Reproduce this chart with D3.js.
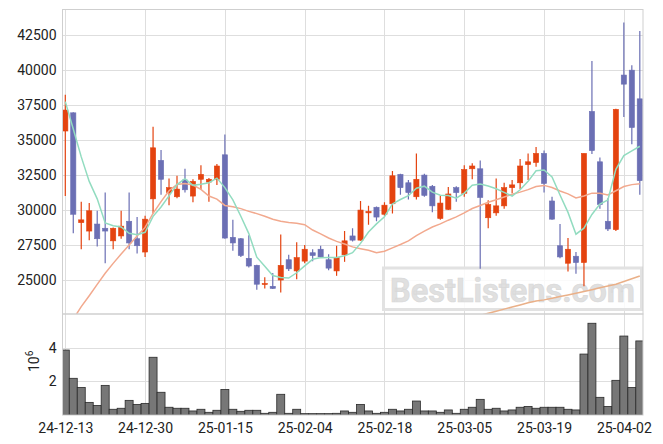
<!DOCTYPE html>
<html>
<head>
<meta charset="utf-8">
<script src="https://cdn.jsdelivr.net/npm/d3@7"></script>
<style>
  html, body { margin: 0; padding: 0; background: #fff; }
  svg { display: block; }
  text { font-family: Roboto, "Liberation Sans", Arial, sans-serif; }
</style>
</head>
<body>
<svg id="chart" width="663" height="444"></svg>
<script>
const dates = ["24-12-13","24-12-16","24-12-17","24-12-18","24-12-19","24-12-20","24-12-23","24-12-24","24-12-26","24-12-27",
"24-12-30","25-01-02","25-01-03","25-01-06","25-01-07","25-01-08","25-01-09","25-01-10","25-01-13","25-01-14",
"25-01-15","25-01-16","25-01-17","25-01-20","25-01-21","25-01-22","25-01-23","25-01-24","25-01-31","25-02-03",
"25-02-04","25-02-05","25-02-06","25-02-07","25-02-10","25-02-11","25-02-12","25-02-13","25-02-14","25-02-17",
"25-02-18","25-02-19","25-02-20","25-02-21","25-02-24","25-02-25","25-02-26","25-02-27","25-02-28","25-03-04",
"25-03-05","25-03-06","25-03-07","25-03-10","25-03-11","25-03-12","25-03-13","25-03-14","25-03-17","25-03-18",
"25-03-19","25-03-20","25-03-21","25-03-24","25-03-25","25-03-26","25-03-27","25-03-28","25-03-31","25-04-01",
"25-04-02","25-04-03","25-04-04"];

const open = [35650,36950,29100,28500,29000,28700,27800,28150,29200,27950,
27000,30800,33550,31250,30950,32150,31000,32200,32000,32200,
33950,28050,27950,26550,26050,24700,24550,25000,26450,25650,
26350,26950,27200,26450,25650,26800,28150,27850,29800,30200,
29700,30450,32550,31950,30950,32500,31700,29400,30050,31600,
31200,32950,32950,29450,29800,30300,31600,31950,33250,33400,
34050,30650,27450,26200,26700,26250,37050,33450,29200,28600,
39650,40000,37950];

const high = [38250,37000,30600,30500,29950,31250,28750,29950,31250,29500,
29600,35950,34300,32250,32450,32950,32200,33200,32300,33300,
35400,29300,28000,28200,26100,25200,25500,28250,26800,27700,
27500,27200,27450,26850,27450,28500,28700,30650,30300,30250,
30550,32800,32600,32150,34050,32600,31800,31050,31650,31700,
33200,33350,33550,30700,32250,31950,32150,33650,34050,34500,
34250,30950,29000,28000,27000,34050,40650,33750,30850,37250,
43400,40350,42800];

const low = [31000,28350,27200,27850,27400,26200,27200,27950,27200,26900,
26650,29750,31100,30350,30850,31250,30550,31450,30600,31800,
27950,27100,26650,25900,24300,24400,24350,24100,25650,25050,
26200,26350,26600,25700,25300,26300,27750,27800,28950,29200,
29550,29750,31100,30750,30750,30950,29850,29300,30000,30600,
30950,32200,25800,28700,29600,30100,31200,31500,32150,33100,
31250,29300,26550,25600,25450,24550,34000,30100,28500,28500,
36650,34700,31100];

const close = [37150,29700,29300,29950,27950,28500,28700,28850,27650,27450,
29350,34450,32200,31600,31500,31450,32050,32550,32200,33150,
28000,27650,26750,26000,24700,24750,24400,26050,25800,26600,
27200,26750,26650,25850,26600,27800,27850,30000,29900,29500,
30350,32450,31600,31250,32200,31050,30300,30500,31150,31250,
32900,33150,30900,30400,30300,31600,31800,33150,33450,34050,
31900,29350,26650,27200,26250,34050,34250,30400,28650,37200,
39000,35900,32100];

// volume in millions of shares
const volume = [3.86,2.18,1.64,0.75,0.57,1.76,0.34,0.40,0.87,0.63,
0.69,3.43,1.35,0.46,0.40,0.40,0.24,0.34,0.16,0.28,
1.52,0.34,0.22,0.28,0.28,0.10,0.16,1.23,0.10,0.34,
0.08,0.08,0.08,0.08,0.10,0.24,0.16,0.63,0.24,0.10,
0.16,0.34,0.24,0.34,0.83,0.24,0.24,0.16,0.30,0.10,
0.34,0.46,0.93,0.34,0.40,0.24,0.30,0.46,0.51,0.40,
0.46,0.46,0.46,0.34,0.30,3.62,5.45,1.05,0.51,2.06,
4.69,1.64,4.40];

const ma5 = [37750,35800,33800,32050,30800,29076,28881,28795,28343,28243,
28409,29552,30224,31014,31824,32238,31766,31838,31957,32285,
31605,30724,29557,28319,26629,25976,25319,25186,25138,25519,
26009,26481,26600,26609,26614,26729,26952,27619,28429,29010,
29524,30438,30757,31028,31566,31709,31285,31062,31043,30847,
31214,31781,31862,31714,31524,31267,30995,31448,32052,32805,
32862,32371,31076,29833,28276,28705,29686,30433,30719,32909,
33895,34224,34562];

const ma20 = [21500,22200,23100,23880,24690,25480,26190,26860,27500,28140,
28760,29760,30600,31380,31830,31900,31790,31480,31000,30788,
30332,30231,30103,29908,29745,29557,29340,29201,29107,29064,
28957,28573,28295,28006,27762,27580,27369,27240,27124,26943,
27060,27298,27540,27801,28177,28493,28789,29009,29277,29509,
29794,30114,30325,30554,30737,30929,31125,31282,31459,31686,
31763,31608,31362,31161,30863,31012,31208,31205,31080,31379,
31682,31819,31880];

const ma60 = [null,null,null,null,null,null,null,null,null,null,
null,null,null,null,null,null,null,null,null,null,
null,null,null,null,null,null,null,null,null,null,
null,null,null,null,null,null,null,null,null,null,
null,null,null,null,null,null,null,null,null,null,
22200,22340,22480,22620,22770,22920,23070,23220,23370,23500,
23580,23700,23820,23930,24050,24180,24310,24440,24570,24700,
24890,25090,25290];

const priceTicks = [25000,27500,30000,32500,35000,37500,40000,42500];
const volTicks = [2,4];
const dateTickIdx = [0,10,20,30,40,50,60,70];

const upColor = "#e4430f", downColor = "#6b6fb4";

const svg = d3.select("#chart");
const L = 62.5, R = 643, T = 9.5, MB = 314, VB = 415;

const x = d3.scaleLinear().domain([-0.35, 72.4]).range([L, R]);
const y = d3.scaleLinear().domain([22571, 44336]).range([MB, T]);
const yv = d3.scaleLinear().domain([0, 6]).range([VB, MB]);
const step = x(1) - x(0);

svg.append("defs").append("clipPath").attr("id","clipMain")
  .append("rect").attr("x", L).attr("y", T).attr("width", R - L).attr("height", MB - T);
svg.select("defs").append("clipPath").attr("id","clipVol")
  .append("rect").attr("x", L).attr("y", MB).attr("width", R - L).attr("height", VB - MB);

// gridlines
const grid = svg.append("g").attr("stroke", "#dedede").attr("stroke-width", 1);
priceTicks.forEach(t => grid.append("line").attr("x1", L).attr("x2", R).attr("y1", Math.round(y(t)) + 0.5).attr("y2", Math.round(y(t)) + 0.5));
volTicks.forEach(t => grid.append("line").attr("x1", L).attr("x2", R).attr("y1", Math.round(yv(t)) + 0.5).attr("y2", Math.round(yv(t)) + 0.5));
dateTickIdx.forEach(i => {
  const xx = Math.round(x(i)) + 0.5;
  grid.append("line").attr("x1", xx).attr("x2", xx).attr("y1", T).attr("y2", VB);
});

// watermark
const wm = svg.append("g");
wm.append("rect").attr("x", 383.5).attr("y", 268).attr("width", 258).attr("height", 41.5)
  .attr("fill", "#fff").attr("fill-opacity", 0.85).attr("stroke", "#e2e2e2").attr("stroke-width", 3);
wm.append("text").attr("x", 390).attr("y", 301.5).text("BestListens.com")
  .attr("font-family", "'Liberation Sans', Arial, sans-serif").attr("font-weight", "bold")
  .attr("font-size", 34).attr("fill", "#e0e0e0").attr("stroke", "#d8d8d8").attr("stroke-width", 0.6)
  .attr("textLength", 245).attr("lengthAdjust", "spacingAndGlyphs");

// volume bars
svg.append("g").attr("clip-path", "url(#clipVol)")
  .selectAll("rect").data(volume).join("rect")
  .attr("x", (d, i) => x(i) - step / 2)
  .attr("width", step)
  .attr("y", d => yv(d))
  .attr("height", d => yv(0) - yv(d))
  .attr("fill", "#777")
  .attr("stroke", "#2a2a2a").attr("stroke-width", 0.8);

// candles
const idx = d3.range(dates.length);
const cg = svg.append("g").attr("clip-path", "url(#clipMain)");
cg.selectAll("line.wick").data(idx).join("line").attr("class", "wick")
  .attr("x1", i => x(i)).attr("x2", i => x(i))
  .attr("y1", i => y(high[i])).attr("y2", i => y(low[i]))
  .attr("stroke", i => close[i] >= open[i] ? upColor : downColor).attr("stroke-width", 1.2);
cg.selectAll("rect.body").data(idx).join("rect").attr("class", "body")
  .attr("x", i => x(i) - 2.6).attr("width", 5.2)
  .attr("y", i => y(Math.max(open[i], close[i])))
  .attr("height", i => Math.max(1, Math.abs(y(open[i]) - y(close[i]))))
  .attr("fill", i => close[i] >= open[i] ? upColor : downColor)
  .attr("stroke", i => close[i] >= open[i] ? upColor : downColor).attr("stroke-width", 0.6);

// moving averages
const lineOf = arr => d3.line().defined(i => arr[i] != null).x(i => x(i)).y(i => y(arr[i]));
const lg = svg.append("g").attr("clip-path", "url(#clipMain)").attr("fill", "none").attr("stroke-width", 1.5);
lg.append("path").attr("d", lineOf(ma60)(idx)).attr("stroke", "#eab088");
lg.append("path").attr("d", lineOf(ma20)(idx)).attr("stroke", "#f2a98e");
lg.append("path").attr("d", lineOf(ma5)(idx)).attr("stroke", "#92dcc0");

// frames
svg.append("rect").attr("x", L).attr("y", T).attr("width", R - L).attr("height", MB - T)
  .attr("fill", "none").attr("stroke", "#cfcfcf");
svg.append("rect").attr("x", L).attr("y", MB).attr("width", R - L).attr("height", VB - MB)
  .attr("fill", "none").attr("stroke", "#cfcfcf");

// axes
const yAxis = d3.axisLeft(y).tickValues(priceTicks).tickSize(0).tickPadding(6).tickFormat(d3.format("d"));
const ga = svg.append("g").attr("transform", `translate(${L},0)`).call(yAxis);
ga.select(".domain").remove();
ga.selectAll("text").attr("font-size", 14).attr("fill", "#222").attr("font-family", "Roboto, sans-serif");

const vAxis = d3.axisLeft(yv).tickValues(volTicks).tickSize(0).tickPadding(6).tickFormat(d3.format("d"));
const gv = svg.append("g").attr("transform", `translate(${L},0)`).call(vAxis);
gv.select(".domain").remove();
gv.selectAll("text").attr("font-size", 14).attr("fill", "#222").attr("font-family", "Roboto, sans-serif");

const xAxis = d3.axisBottom(x).tickValues(dateTickIdx).tickSize(0).tickPadding(8).tickFormat(i => dates[i]);
const gx = svg.append("g").attr("transform", `translate(0,${VB})`).call(xAxis);
gx.select(".domain").remove();
gx.selectAll("text").attr("font-size", 14).attr("fill", "#222").attr("font-family", "Roboto, sans-serif");

// volume unit label
const ul = svg.append("text").attr("transform", "translate(38.5,372) rotate(-90)")
  .attr("font-size", 14).attr("fill", "#222");
ul.append("tspan").text("10");
ul.append("tspan").text("6").attr("font-size", 10).attr("dy", -6);
</script>
</body>
</html>
